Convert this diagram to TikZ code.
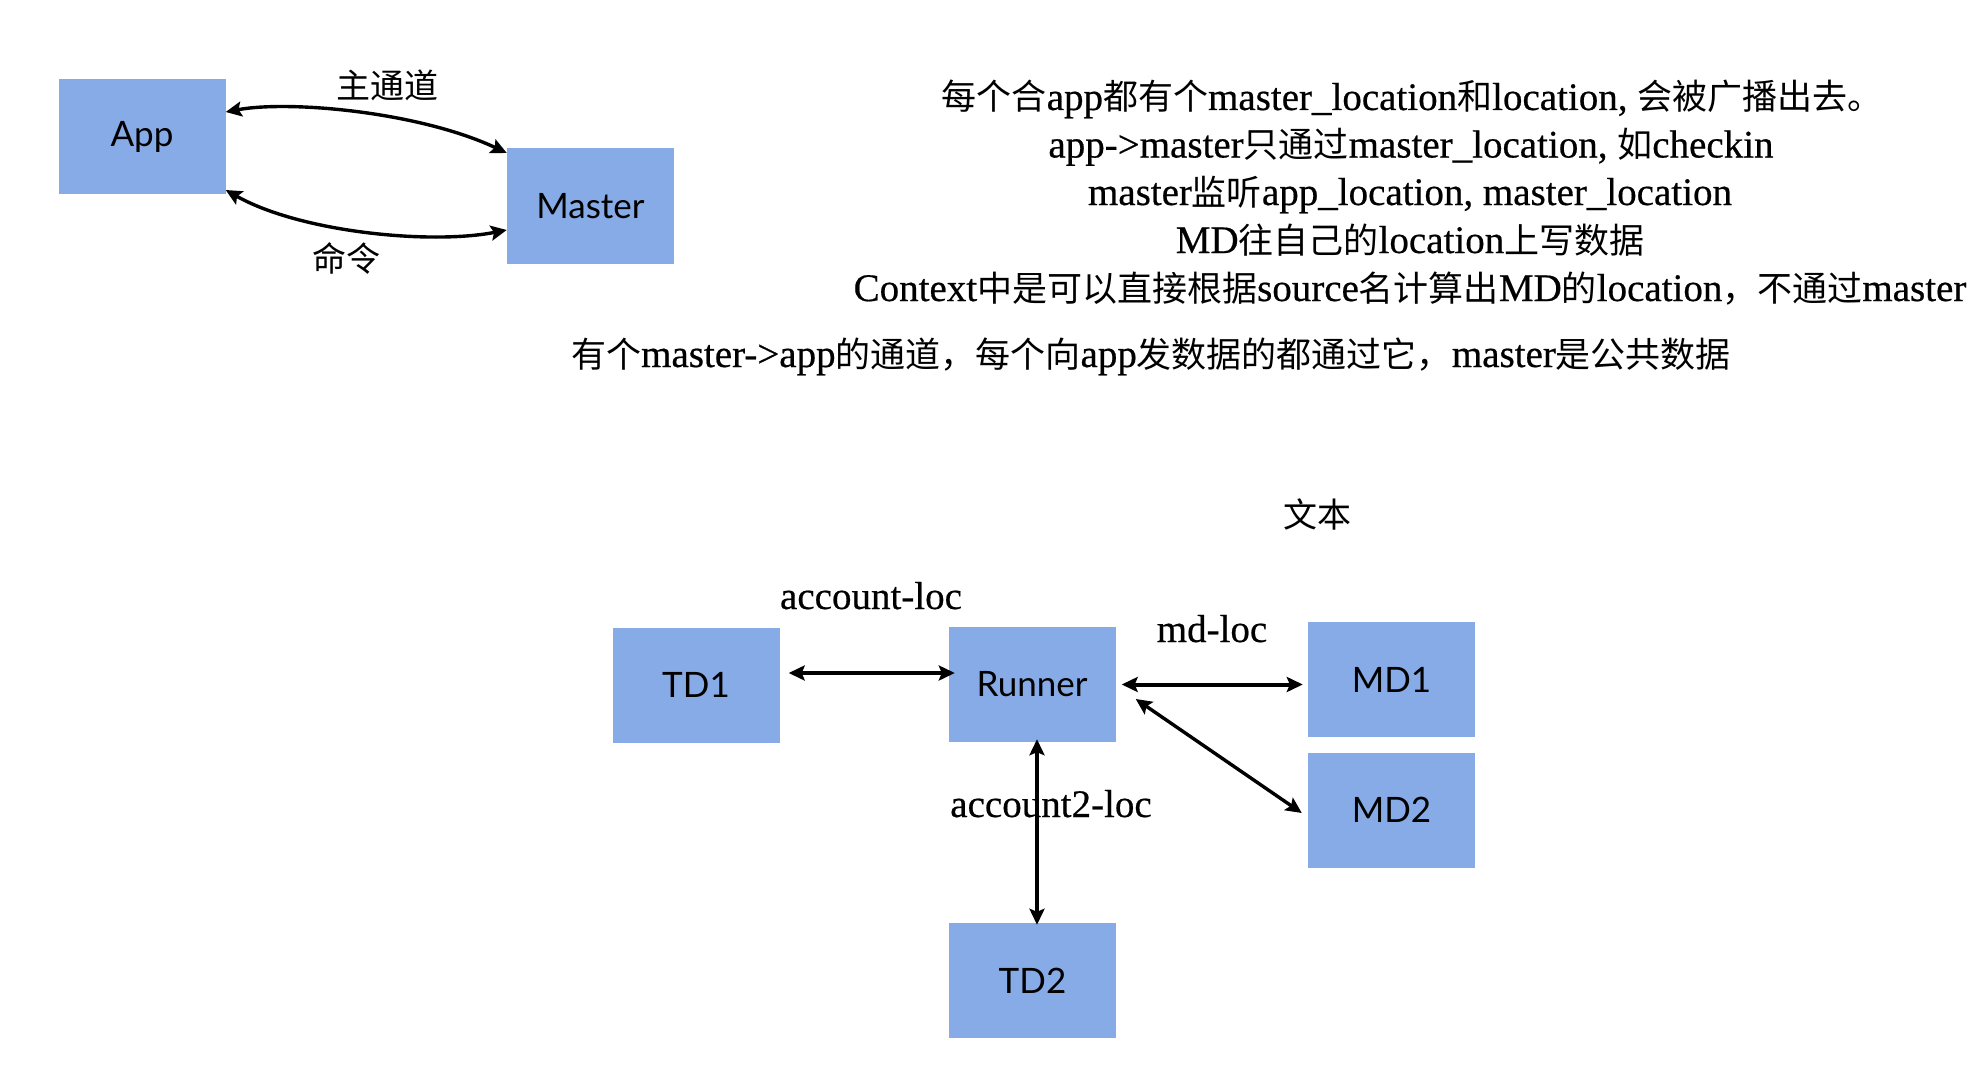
\documentclass[tikz,border=0pt]{standalone}
\usepackage{fontspec}
\setmainfont{Liberation Serif}[FakeBold=0.5]
\newfontfamily\cjkfont{Noto Sans CJK SC}
\newfontfamily\boxfont{Lato}
\usetikzlibrary{arrows.meta}
\definecolor{boxblue}{RGB}{134,171,230}
\newcommand\zh[1]{{\cjkfont\fontsize{35}{48}\selectfont #1}}
\begin{document}
\begin{tikzpicture}[x=1pt,y=-1pt,
  box/.style={fill=boxblue, draw=none, minimum width=167pt, minimum height=115pt, inner sep=0pt, font=\boxfont\fontsize{35}{42}\selectfont},
  lat/.style={font=\fontsize{39}{48}\selectfont, inner sep=0pt},
  zhlabel/.style={font=\cjkfont\fontsize{34}{40}\selectfont, inner sep=0pt},
  link/.style={line width=3.4pt, {Stealth[length=16pt,width=15pt,inset=3pt]}-{Stealth[length=16pt,width=15pt,inset=3pt]}}]
\useasboundingbox (0,0) rectangle (1974,1070);
% boxes
\node[box] (app) at (142,136.5) {App};
\node[box] (master) at (590.5,206) {Master};
\node[box] (td1) at (696,685) {TD1};
\node[box] (runner) at (1032,684.5) {Runner};
\node[box] (md1) at (1391.5,679.5) {MD1};
\node[box] (md2) at (1391.5,810) {MD2};
\node[box] (td2) at (1032.5,980.5) {TD2};
% labels
\node[zhlabel] (lmain) at (387,85) {主通道};
\node[zhlabel] (lcmd) at (346,258) {命令};
\node[zhlabel] (ltext) at (1317,514) {文本};
\node[lat, anchor=base] (lacc) at (871,609) {account-loc};
\node[lat, anchor=base] (lmd) at (1212,642) {md-loc};
\node[lat, anchor=base] (lacc2) at (1051,817) {account2-loc};
% text block
\node[lat, anchor=base] (t1) at (1412,110) {\zh{每个合}app\zh{都有个}master\_location\zh{和}location, \zh{会被广播出去。}};
\node[lat, anchor=base] (t2) at (1411,157.5) {app->master\zh{只通过}master\_location, \zh{如}checkin};
\node[lat, anchor=base] (t3) at (1410,205) {master\zh{监听}app\_location, master\_location};
\node[lat, anchor=base] (t4) at (1410,253) {MD\zh{往自己的}location\zh{上写数据}};
\node[lat, anchor=base] (t5) at (1410,301) {Context\zh{中是可以直接根据}source\zh{名计算出}MD\zh{的}location\zh{，不通过}master};
\node[lat, anchor=base] (t6) at (1151,367) {\zh{有个}master->app\zh{的通道，每个向}app\zh{发数据的都通过它，}master\zh{是公共数据}};
% connectors
\draw[link] ([yshift=24.5pt]app.east) .. controls +(64,-12) and +(-87,-41) .. ([yshift=53pt]master.west);
\draw[link] ([yshift=-53.5pt]app.east) .. controls +(74,42) and +(-77,15) .. ([yshift=-24pt]master.west);
\draw[link, line width=4pt, shorten <=9pt, shorten >=-6.5pt] ([yshift=12pt]td1.east) -- ([yshift=12pt]td1.east -| runner.west);
\draw[link, line width=4pt, shorten <=6pt, shorten >=5pt] (runner.east) -- (runner.east -| md1.west);
\draw[link] ([xshift=20pt,yshift=-14.5pt]runner.east) -- ([xshift=-6pt,yshift=-3pt]md2.west);
\draw[link, shorten <=-3pt, shorten >=-2pt] ([xshift=5pt]runner.south) -- ([xshift=4.5pt]td2.north);
\end{tikzpicture}
\end{document}
